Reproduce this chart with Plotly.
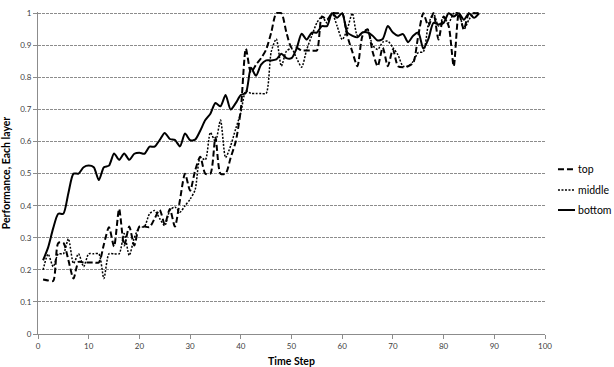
import plotly.graph_objects as go

time_steps = list(range(1, 88))

top = [0.17, 0.167, 0.165, 0.284, 0.284, 0.23, 0.173, 0.225, 0.223, 0.223,
       0.223, 0.223, 0.28, 0.333, 0.273, 0.39, 0.276, 0.335, 0.276, 0.335,
       0.335, 0.333, 0.36, 0.387, 0.342, 0.39, 0.335, 0.418, 0.5, 0.447,
       0.51, 0.553, 0.5, 0.5, 0.613, 0.5, 0.5, 0.55, 0.6, 0.7,
       0.89, 0.815, 0.84, 0.86, 0.887, 0.94, 1.0, 1.0, 0.94, 0.893,
       0.893, 0.884, 0.884, 0.884, 0.884, 0.99, 0.98, 1.0, 1.0, 1.0,
       0.93, 0.88, 0.835, 0.93, 0.95, 0.88, 0.835, 0.893, 0.835, 0.887,
       0.835, 0.832, 0.835, 0.845, 0.93, 1.0, 0.96, 1.0, 0.918, 0.99,
       0.96, 0.835, 1.0, 0.95, 1.0, 1.0, 1.0]

middle = [0.2, 0.249, 0.21, 0.25, 0.25, 0.297, 0.22, 0.25, 0.21, 0.25,
          0.25, 0.25, 0.173, 0.25, 0.25, 0.25, 0.313, 0.245, 0.30, 0.333,
          0.335, 0.375, 0.385, 0.36, 0.338, 0.385, 0.396, 0.38, 0.40, 0.42,
          0.45, 0.55, 0.543, 0.628, 0.6, 0.667, 0.55, 0.587, 0.64, 0.69,
          0.758, 0.75, 0.75, 0.75, 0.75, 0.88, 0.92, 0.835, 0.882, 0.89,
          0.86, 0.832, 0.887, 0.93, 0.97, 0.99, 0.97, 1.0, 0.96, 0.918,
          0.95, 1.0, 0.93, 0.94, 0.95, 0.9, 0.887, 0.91, 0.913, 0.893,
          0.87, 0.835, 0.835, 0.85, 0.877, 0.88, 0.965, 1.0, 0.96, 0.986,
          0.97, 1.0, 1.0, 0.95, 0.98, 1.0, 1.0]

bottom = [0.23, 0.27, 0.33, 0.375, 0.375, 0.44, 0.50, 0.50, 0.52, 0.525,
          0.52, 0.48, 0.52, 0.525, 0.563, 0.543, 0.563, 0.543, 0.562, 0.565,
          0.562, 0.584, 0.584, 0.605, 0.627, 0.608, 0.605, 0.585, 0.625, 0.604,
          0.606, 0.634, 0.667, 0.687, 0.72, 0.71, 0.745, 0.70, 0.72, 0.745,
          0.752, 0.83, 0.805, 0.84, 0.853, 0.853, 0.856, 0.874, 0.86, 0.86,
          0.89, 0.936, 0.918, 0.94, 0.94, 0.96, 0.96, 1.0, 0.986, 1.0,
          0.94, 0.93, 0.925, 0.94, 0.94, 0.93, 0.915, 0.92, 0.96, 0.94,
          0.93, 0.935, 0.91, 0.93, 0.94, 0.89, 0.92, 0.97, 0.965, 0.97,
          1.0, 0.99, 1.0, 0.98, 1.0, 0.986, 1.0]

series_names = ["top", "middle", "bottom"]
x_ticks = [0, 10, 20, 30, 40, 50, 60, 70, 80, 90, 100]
y_ticks = [0, 0.1, 0.2, 0.3, 0.4, 0.5, 0.6, 0.7, 0.8, 0.9, 1]
y_tick_labels = ["0", "0.1", "0.2", "0.3", "0.4", "0.5", "0.6", "0.7", "0.8", "0.9", "1"]

FONT = "Lato, Carlito, Calibri, sans-serif"

styles = [
    dict(color="black", width=2, dash="6px,3px"),
    dict(color="black", width=1.5, dash="2px,1.5px"),
    dict(color="black", width=2, dash="solid"),
]
series_values = [top, middle, bottom]

fig = go.Figure()
for name, vals, st in zip(series_names, series_values, styles):
    fig.add_trace(go.Scatter(x=time_steps, y=vals, name=name, mode="lines",
                             line=dict(shape="spline", smoothing=0.7, **st)))

# Legend drawn as sample lines + labels to the right of the plot (Excel style).
legend_y = [0.512, 0.447, 0.385]
for name, st, ly in zip(series_names, styles, legend_y):
    fig.add_shape(type="line", xref="paper", yref="paper",
                  x0=1.0256, x1=1.0592, y0=ly, y1=ly, line=st)
    fig.add_annotation(xref="paper", yref="paper", x=1.062, y=ly, text=name,
                       showarrow=False, xanchor="left", yanchor="middle",
                       font=dict(family=FONT, size=10.5, color="black"))

fig.update_layout(
    width=614, height=367,
    margin=dict(l=38, r=69, t=12, b=33, autoexpand=False),
    paper_bgcolor="white", plot_bgcolor="white",
    font=dict(family=FONT, size=8, color="#404040"),
    showlegend=False,
    xaxis=dict(range=[0, 100], tickvals=x_ticks, ticks="outside", ticklen=4,
               tickcolor="#8c8c8c", showline=True, linecolor="#8c8c8c", linewidth=1,
               showgrid=False, zeroline=False, automargin=False, ticklabeloverflow="allow",
               tickfont=dict(family=FONT, size=8, color="#404040"),
               title=dict(text="<b>Time Step</b>", font=dict(family=FONT, size=10.5, color="black"),
                          standoff=8)),
    yaxis=dict(range=[0, 1.004], tickvals=y_ticks, ticktext=y_tick_labels, ticks="outside",
               ticklen=4, tickcolor="#8c8c8c", showline=True, linecolor="#8c8c8c", linewidth=1,
               showgrid=True, gridcolor="#8c8c8c", gridwidth=1, griddash="3px,1px",
               zeroline=False, automargin=False, ticklabeloverflow="allow",
               tickfont=dict(family=FONT, size=8, color="#404040"),
               title=dict(text="<b>Performance, Each layer</b>",
                          font=dict(family=FONT, size=10.5, color="black"), standoff=9)),
)

# Remove the default page margin so the 614x367 figure fills the window exactly.
fig.write_html("out.html", config={"displayModeBar": False},
               post_script="document.body.style.margin='0';document.body.style.overflow='hidden';")
